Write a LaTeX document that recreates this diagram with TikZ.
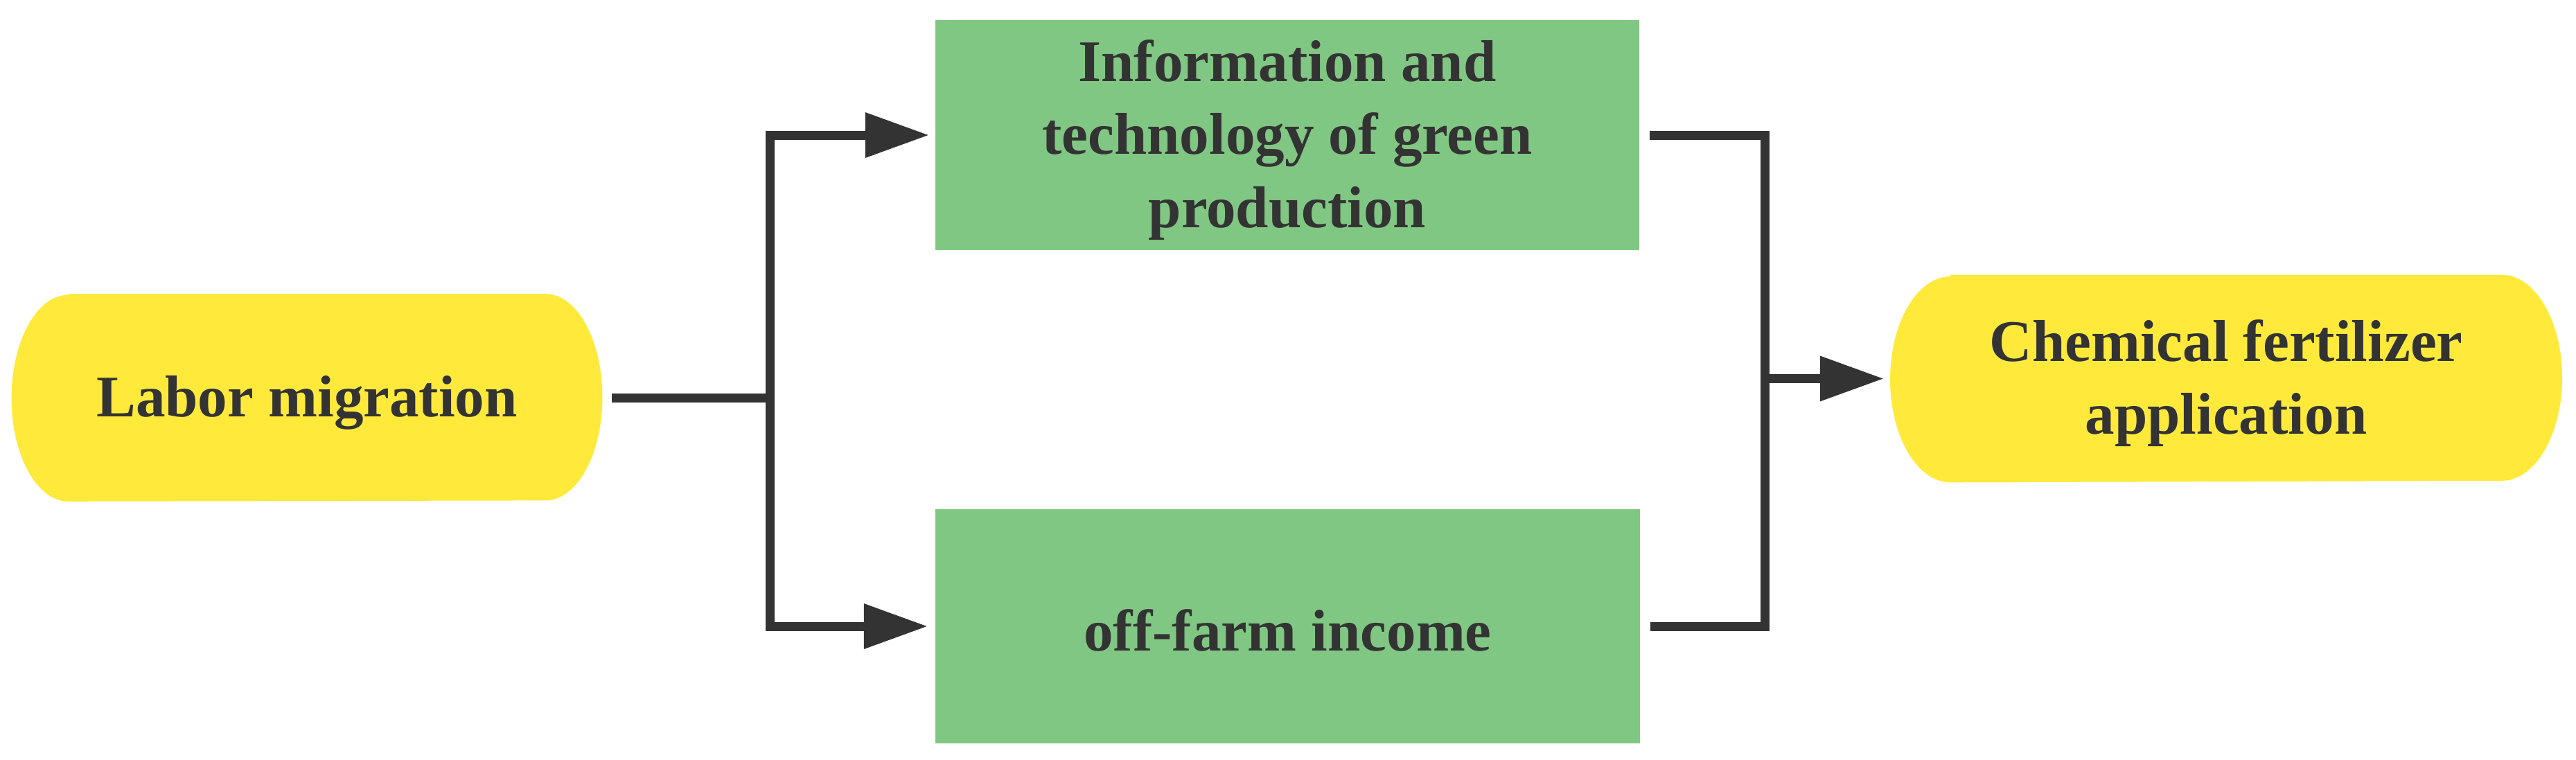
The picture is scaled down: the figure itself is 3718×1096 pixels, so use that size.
\documentclass[tikz,border=0pt]{standalone}
\usepackage{fontspec}
\setmainfont{Liberation Serif}
\usetikzlibrary{arrows.meta,backgrounds}
\definecolor{txtgray}{HTML}{333333}
\definecolor{linegray}{HTML}{333333}
\definecolor{boxgreen}{HTML}{81C784}
\definecolor{pillyellow}{HTML}{FFEA3C}
\tikzset{
  txt/.style={text=txtgray, font=\bfseries\fontsize{24.2pt}{29.9pt}\selectfont, align=center, inner sep=0pt},
  greenbox/.style={fill=boxgreen, minimum width=10.16cm, minimum height=3.32cm, inner sep=0pt},
  pillbox/.style={minimum height=2.98cm, inner sep=0pt},
  conn/.style={draw=linegray, line width=3.7pt},
  arr/.style={conn, -{Triangle[length=0.92cm, width=0.62cm]}}
}
\newcommand{\ypill}[3]{%
  \fill[pillyellow] ([xshift=#2]#1.north west) -- ([xshift=-#2]#1.north east)
    arc[start angle=90, end angle=-90, x radius=#2, y radius=#3]
    -- ([xshift=#2]#1.south west)
    arc[start angle=270, end angle=90, x radius=#2, y radius=#3] -- cycle;}
\begin{document}
\begin{tikzpicture}[x=0.01cm, y=-0.01cm]
  \useasboundingbox (0,0) rectangle (3718,1096);
  % shapes
  \node[pillbox, minimum width=8.51cm] (labor) at (443,574) {};
  \node[greenbox] (top) at (1858,195) {};
  \node[greenbox, minimum width=10.17cm, minimum height=3.38cm] (bot) at (1858.5,904) {};
  \node[pillbox, minimum width=9.68cm] (chem) at (3213,546.5) {};
  \begin{scope}[on background layer]
    \fill[white] (0,0) rectangle (3718,1096);
    \ypill{labor}{0.82cm}{1.49cm}
    \ypill{chem}{0.87cm}{1.485cm}
  \end{scope}
  % texts
  \node[txt, yshift=-0.07cm] (laborT) at (labor.center) {Labor migration};
  \node[txt, yshift=-0.07cm] (topT) at (top.center) {Information and\\technology of green\\production};
  \node[txt, yshift=-0.06cm] (botT) at (bot.center) {off-farm income};
  \node[txt, yshift=-0.07cm] (chemT) at (chem.center) {Chemical fertilizer\\application};
  % junctions
  \coordinate (j1) at (1111,574);
  \coordinate (j2) at (2547,546.5);
  % connectors
  \draw[conn] ([xshift=0.14cm]labor.east) -- (j1);
  \draw[arr] (j1) |- ([xshift=-0.08cm]top.west);
  \draw[arr] (j1) |- ([xshift=-0.1cm]bot.west);
  \draw[conn] ([xshift=0.14cm]top.east) -| (j2) |- ([xshift=0.14cm]bot.east);
  \draw[arr] (j2) -- ([xshift=-0.09cm]chem.west);
\end{tikzpicture}
\end{document}
